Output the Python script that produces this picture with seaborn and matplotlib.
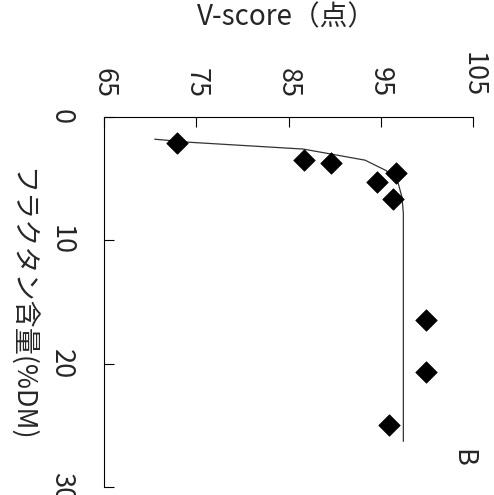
import matplotlib

matplotlib.use("Agg")
import matplotlib.pyplot as plt
import seaborn as sns

# measured points: fructan content (%DM) vs V-score
fructan = [2.1, 3.45, 3.75, 4.55, 5.3, 6.65, 16.45, 20.65, 25.0]
vscore = [72.9, 86.7, 89.6, 96.7, 94.6, 96.3, 99.9, 99.9, 95.9]

# fitted curve
curve_fructan = [1.8, 2.05, 2.6, 3.5, 4.35, 5.4, 6.5, 7.8, 26.3]
curve_vscore = [70.5, 74.3, 86.6, 93.3, 95.6, 96.9, 97.3, 97.45, 97.45]

xlabel = "V-score（点）"
ylabel = "フラクタン含量(%DM)"
xticks = [65, 75, 85, 95, 105]
yticks = [0, 10, 20, 30]

sns.set_theme(style="white")
plt.rcParams["font.family"] = ["Noto Sans CJK JP", "DejaVu Sans"]

fig = plt.figure(figsize=(4.94, 4.95), dpi=100)
ax = fig.add_axes([104 / 494, 1 - 487 / 495, 369 / 494, 370 / 495])

sns.lineplot(x=curve_vscore, y=curve_fructan, orient="y", estimator=None,
             color="#333333", linewidth=0.9, ax=ax)
sns.scatterplot(x=vscore, y=fructan, marker="D", s=120, color="black",
                edgecolor="black", linewidth=0.5, ax=ax, zorder=3)

ax.set_xlim(65, 105)
ax.set_ylim(30, 0)
ax.set_xticks(xticks)
ax.set_yticks(yticks)
ax.xaxis.tick_top()

for side in ["right", "bottom"]:
    ax.spines[side].set_visible(False)
for side in ["left", "top"]:
    ax.spines[side].set_color("black")
    ax.spines[side].set_linewidth(0.8)

ax.tick_params(axis="both", direction="in", length=7, width=0.8, color="black",
               labelsize=19.5)
ax.tick_params(axis="x", pad=14, top=True, bottom=False)
ax.tick_params(axis="y", pad=21, left=True)
for lbl in ax.get_xticklabels():
    lbl.set_rotation(-90)
for lbl in ax.get_yticklabels():
    lbl.set_rotation(-90)
    lbl.set_va("center")

ax.set_xlabel(xlabel, fontsize=20, va="center", ha="center")
ax.xaxis.set_label_position("top")
ax.xaxis.set_label_coords((287 - 104) / 369, (487 - 25) / 370)
ax.set_ylabel(ylabel, fontsize=19.5, rotation=-90, va="center", ha="center")
ax.yaxis.set_label_coords((21 - 104) / 369, (487 - 305) / 370)

ax.text((463 - 104) / 369, (487 - 458) / 370, "B", transform=ax.transAxes,
        rotation=-90, ha="center", va="center", fontsize=19.5)

fig.savefig("out.png", dpi=100)
